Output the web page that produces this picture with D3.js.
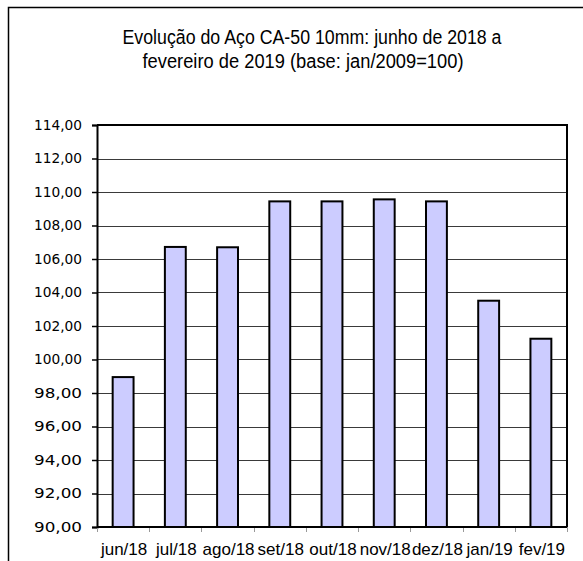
<!DOCTYPE html>
<html>
<head>
<meta charset="utf-8">
<script src="https://cdn.jsdelivr.net/npm/d3@7"></script>
<style>
  body { margin: 0; background: #fff; }
  svg { display: block; }
</style>
</head>
<body>
<div id="chart"></div>
<script>
// Data
const months = ["jun/18", "jul/18", "ago/18", "set/18", "out/18", "nov/18", "dez/18", "jan/19", "fev/19"];
const values = [98.95, 106.72, 106.70, 109.44, 109.44, 109.56, 109.44, 103.51, 101.24];
const yTicks = [90, 92, 94, 96, 98, 100, 102, 104, 106, 108, 110, 112, 114];
const titleLines = ["Evolução  do Aço CA-50 10mm: junho de 2018 a", "fevereiro de 2019 (base: jan/2009=100)"];

const width = 583, height = 561;
const margins = { top: 125, right: 16, bottom: 34, left: 97 };
const plotW = width - margins.left - margins.right;
const plotH = height - margins.top - margins.bottom;

const svg = d3.select("#chart").append("svg")
    .attr("width", width)
    .attr("height", height);

// Outer frame (only top and left edges are visible)
svg.append("path")
    .attr("d", `M8.5,${height} V7.5 H${width}`)
    .attr("fill", "none")
    .attr("stroke", "#000")
    .attr("stroke-width", 1.5);

// Title
svg.append("text")
    .attr("x", 312)
    .attr("y", 44)
    .attr("text-anchor", "middle")
    .attr("font-family", "'Liberation Sans', Arial, sans-serif")
    .attr("font-size", 19.5)
    .attr("textLength", 379)
    .attr("lengthAdjust", "spacingAndGlyphs")
    .text(titleLines[0]);
svg.append("text")
    .attr("x", 303)
    .attr("y", 68)
    .attr("text-anchor", "middle")
    .attr("font-family", "'Liberation Sans', Arial, sans-serif")
    .attr("font-size", 19.5)
    .attr("textLength", 321)
    .attr("lengthAdjust", "spacingAndGlyphs")
    .text(titleLines[1]);

const g = svg.append("g")
    .attr("transform", `translate(${margins.left},${margins.top})`);

// Scales
const x = d3.scaleBand()
    .domain(months)
    .range([0, plotW])
    .paddingInner(0.6)
    .paddingOuter(0.3);

const y = d3.scaleLinear()
    .domain([90, 114])
    .range([plotH, 0]);

const comma = d3.formatLocale({ decimal: ",", thousands: ".", grouping: [3], currency: ["R$", ""] }).format(".2f");

// Gridlines
g.append("g")
    .selectAll("line")
    .data(yTicks.slice(1, -1))
    .join("line")
    .attr("x1", 0)
    .attr("x2", plotW)
    .attr("y1", d => Math.round(y(d)) + 0.5)
    .attr("y2", d => Math.round(y(d)) + 0.5)
    .attr("stroke", "#3a3a3a")
    .attr("stroke-width", 1);

// Top and right border of the plot
g.append("path")
    .attr("d", `M0,${y(114)} H${plotW} V${plotH}`)
    .attr("fill", "none")
    .attr("stroke", "#000")
    .attr("stroke-width", 2);

// Bars
g.append("g")
    .selectAll("rect")
    .data(months.map((m, i) => ({ month: m, value: values[i] })))
    .join("rect")
    .attr("x", d => x(d.month))
    .attr("y", d => y(d.value))
    .attr("width", x.bandwidth())
    .attr("height", d => plotH - y(d.value))
    .attr("fill", "#ccccff")
    .attr("stroke", "#000")
    .attr("stroke-width", 2);

// Y axis
const yAxis = g.append("g")
    .call(d3.axisLeft(y).tickValues(yTicks).tickSize(5).tickPadding(10).tickFormat(comma));
yAxis.select(".domain").attr("stroke", "#000").attr("stroke-width", 2);
yAxis.selectAll(".tick line").attr("stroke", "#000").attr("stroke-width", 1.5);
yAxis.selectAll(".tick text")
    .attr("font-family", "'DejaVu Sans', Verdana, sans-serif")
    .attr("font-size", 14)
    .attr("textLength", 48)
    .attr("lengthAdjust", "spacingAndGlyphs")
    .attr("fill", "#000");

// X axis: category boundary ticks under the baseline
const step = x.step();
g.append("g")
    .selectAll("line")
    .data(d3.range(months.length + 1))
    .join("line")
    .attr("x1", i => Math.round(i * step) + 0.5)
    .attr("x2", i => Math.round(i * step) + 0.5)
    .attr("y1", plotH)
    .attr("y2", plotH + 5)
    .attr("stroke", "#999")
    .attr("stroke-width", 1);

g.append("line")
    .attr("x1", 0)
    .attr("x2", plotW)
    .attr("y1", plotH)
    .attr("y2", plotH)
    .attr("stroke", "#000")
    .attr("stroke-width", 2);

g.append("g")
    .selectAll("text")
    .data(months)
    .join("text")
    .attr("x", d => x(d) + x.bandwidth() / 2 + 1)
    .attr("y", plotH + 28)
    .attr("text-anchor", "middle")
    .attr("font-family", "'Liberation Sans', Arial, sans-serif")
    .attr("font-size", 17)
    .attr("fill", "#000")
    .text(d => d);
</script>
</body>
</html>
